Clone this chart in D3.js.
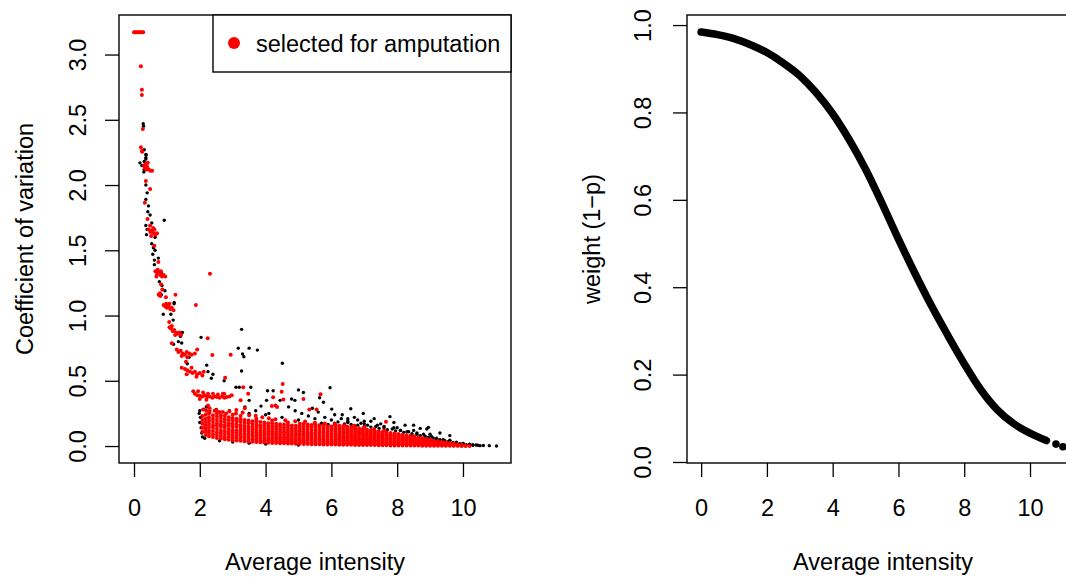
<!DOCTYPE html>
<html>
<head>
<meta charset="utf-8">
<script src="https://d3js.org/d3.v7.min.js"></script>
<style>
  body { margin: 0; background: white; }
  svg text { font-family: "Liberation Sans", Arial, sans-serif; font-size: 23.5px; fill: black; }
</style>
</head>
<body>
<svg width="1066" height="577"></svg>
<script>
// tick values
const cvTicks = [0, 0.5, 1, 1.5, 2, 2.5, 3];
const intensityTicks = [0, 2, 4, 6, 8, 10];
const weightTicks = [0, 0.2, 0.4, 0.6, 0.8, 1];

// left panel, all genes: [average intensity, coefficient of variation]
const blackPts = [
  [0.28,2.47],[0.29,2.45],[0.31,2.27],[0.36,2.235],[0.36,2.21],[0.37,2.23],[0.36,2.20],[0.18,2.17],[0.31,2.18],
  [0.24,2.15],[0.30,2.10],[0.31,2.12],[0.36,2.00],[0.40,1.94],[0.36,1.89],[0.44,1.84],[0.42,1.795],[0.49,1.77],
  [0.54,1.71],[0.92,1.73],[0.36,1.69],[0.40,1.66],[0.38,1.62],[0.64,1.60],[0.54,1.55],[0.59,1.52],[0.64,1.50],
  [0.57,1.47],[0.74,1.44],[0.62,1.425],[0.62,1.39],[0.83,1.33],[0.77,1.26],[0.85,1.23],[0.94,1.19],[0.83,1.16],
  [1.22,1.09],[0.89,1.01],[1.12,1.01],[1.19,0.965],[1.22,1.10],[1.47,0.87],[1.41,0.84],[1.20,0.78],[1.35,0.80],
  [1.45,0.79],[2.04,0.833],[1.67,0.68],[1.62,0.63],[2.21,0.62],[3.17,0.75],[3.27,0.894],[3.30,0.705],[3.34,0.684],
  [3.50,0.75],[3.75,0.735],[3.27,0.575],[4.51,0.634],[2.25,0.57],[2.35,0.52],[2.40,0.55],[2.74,0.50],[3.20,0.45],
  [3.55,0.45],[4.06,0.424],[4.23,0.424],[5.00,0.43],[5.15,0.41],[5.96,0.447],[5.64,0.37],[5.76,0.335],[4.79,0.36],
  [4.89,0.35],[3.50,0.35],[3.10,0.45],[3.37,0.30],[3.86,0.306],[4.03,0.35],[4.44,0.35],[5.42,0.29],[6.01,0.283],
  [6.59,0.286],[6.97,0.25],[7.78,0.225],[8.24,0.16],[8.70,0.135],[8.95,0.143],[8.44,0.084],[9.05,0.071],
  [10.52,0.003],[10.80,0.003],[11.02,0.0],[10.62,0.004],[10.45,0.006],
  [4.70,0.30],[4.90,0.27],[5.10,0.25],[5.30,0.23],[5.60,0.26],[5.80,0.22],[6.10,0.24],[6.30,0.21],[6.50,0.19],
  [6.80,0.20],[7.00,0.17],[7.20,0.19],[7.40,0.16],[7.60,0.15],[7.90,0.14],[8.10,0.12],[8.30,0.11],[8.60,0.10],
  [8.80,0.09],[9.20,0.06],[9.40,0.05],[9.60,0.04],[9.80,0.03],[10.00,0.02],[10.20,0.015],[10.30,0.01],[10.40,0.008],
  [5.50,0.17],[5.70,0.175],[5.90,0.165],[6.10,0.175],[6.20,0.185],[6.40,0.17],[6.50,0.18],[6.60,0.165],[6.80,0.16],
  [6.90,0.175],[7.00,0.15],[7.10,0.16],[7.20,0.145],[7.35,0.15],[7.45,0.135],[7.60,0.14],[7.70,0.125],[7.85,0.13],
  [7.95,0.115],[8.10,0.12],[8.20,0.105],[8.35,0.11],[8.45,0.095],[8.60,0.09],[8.70,0.08],[8.85,0.075],[8.95,0.068],
  [9.10,0.06],[9.20,0.052],[9.30,0.048],[9.45,0.04],[9.55,0.034],[9.70,0.028],[9.80,0.022],[9.90,0.018],[10.00,0.014],
  [10.10,0.011],[10.20,0.008],[10.30,0.006],[10.00,0.02],[9.60,0.045],[9.00,0.09],[8.50,0.12],[8.00,0.14],
  [7.50,0.17],[7.00,0.19],[6.50,0.21],[6.00,0.20],[5.50,0.21],[5.00,0.20],[4.50,0.22],[4.00,0.24],[3.50,0.25],
  [6.33,0.24],[6.70,0.22],[7.30,0.21],[7.90,0.18],[8.50,0.16],[8.90,0.13],[9.30,0.10],[9.60,0.08],
  [2.00,0.27],[2.02,0.22],[2.00,0.18],[2.04,0.14],[2.06,0.10],[2.12,0.28],[2.20,0.30],[1.98,0.25],[2.08,0.07],
  [2.15,0.06],[2.20,0.30],[2.50,0.28],[2.90,0.27],[3.30,0.26],[3.70,0.27],[4.10,0.25],
  [2.60,0.04],[3.00,0.03],[3.50,0.022],[4.00,0.015],[5.00,0.008]
];

// left panel, genes selected for amputation: scattered points
const redPts = [
  [0.00,3.17],[0.04,3.17],[0.08,3.17],[0.12,3.17],[0.16,3.17],[0.20,3.17],[0.24,3.17],[0.28,3.17],
  [0.21,2.91],[0.24,2.73],[0.24,2.69],[0.27,2.43],[0.21,2.29],[0.24,2.26],[0.25,2.255],
  [0.30,2.15],[0.35,2.16],[0.40,2.14],[0.45,2.12],[0.50,2.11],[0.55,2.11],[0.38,2.12],[0.42,2.17],[0.33,2.13],
  [0.36,2.03],[0.49,1.97],[0.33,1.865],[0.41,1.74],[0.49,1.69],
  [0.45,1.66],[0.50,1.64],[0.55,1.65],[0.60,1.63],[0.65,1.62],[0.70,1.63],[0.52,1.61],[0.58,1.67],[0.62,1.66],
  [0.62,1.535],[0.74,1.41],
  [0.65,1.34],[0.70,1.32],[0.75,1.33],[0.80,1.31],[0.85,1.30],[0.90,1.31],[0.95,1.30],[0.72,1.35],[0.82,1.34],[0.68,1.30],
  [2.31,1.32],
  [0.82,1.24],[0.86,1.20],[0.79,1.17],[0.75,1.16],[0.80,1.15],[0.97,1.14],[1.26,1.16],[1.88,1.08],
  [0.90,1.08],[0.95,1.07],[1.00,1.06],[1.05,1.07],[1.10,1.05],[1.15,1.06],[1.20,1.04],[0.98,1.09],[1.08,1.09],
  [1.07,0.95],
  [1.08,0.91],[1.12,0.90],[1.18,0.88],[1.22,0.89],[1.28,0.87],[1.33,0.86],[1.38,0.87],[1.43,0.85],[1.15,0.92],[1.25,0.85],
  [1.15,0.787],[2.24,0.825],
  [1.30,0.74],[1.35,0.72],[1.42,0.73],[1.48,0.71],[1.55,0.70],[1.60,0.72],[1.68,0.71],[1.75,0.70],[1.45,0.69],[1.62,0.68],
  [1.92,0.74],[1.85,0.71],[1.58,0.646],[2.38,0.697],[2.94,0.70],
  [1.45,0.60],[1.55,0.59],[1.62,0.58],[1.70,0.57],[1.78,0.56],[1.85,0.57],[1.92,0.55],[2.00,0.56],[2.08,0.54],
  [1.60,0.55],[1.75,0.60],[1.90,0.53],[2.12,0.57],[2.77,0.523],
  [1.80,0.42],[1.85,0.40],[1.92,0.39],[2.00,0.385],[2.08,0.38],[2.15,0.39],[2.22,0.375],[2.30,0.38],[2.38,0.37],
  [2.45,0.38],[2.52,0.375],[2.60,0.37],[2.68,0.38],[2.75,0.37],[2.82,0.375],[2.90,0.38],[2.97,0.39],[1.95,0.42],
  [2.10,0.41],[2.25,0.40],[2.40,0.40],[2.55,0.395],[2.70,0.40],[2.00,0.36],[2.20,0.355],
  [3.32,0.45],[3.47,0.40],[4.52,0.475],[4.49,0.416],[5.67,0.396],[4.23,0.373],[4.54,0.357],[5.15,0.36],[3.24,0.35],
  [2.74,0.40],[3.11,0.276],[3.37,0.29],[4.19,0.306],[4.30,0.31],[4.35,0.30],[5.33,0.28],[5.55,0.28],[7.66,0.186],
  [2.10,0.28],[2.20,0.27],[2.30,0.29],[2.45,0.27],[2.60,0.26],[2.80,0.25],[3.00,0.24],[2.25,0.31],
  [2.30,0.265],[2.50,0.275],[2.70,0.26],[2.90,0.265],[3.10,0.25],[3.30,0.255],[3.50,0.235],[3.70,0.232],
  [3.90,0.22],[4.10,0.212],[4.30,0.205],[4.60,0.198],[4.90,0.19],[5.20,0.188],[5.50,0.178],[5.80,0.172],
  [6.10,0.168],[6.40,0.16],[6.70,0.155],[7.00,0.143],[7.30,0.13],[7.60,0.12]
];

// left panel, genes selected for amputation: dense cloud, one row per intensity column
const redCloud = [
  [2.08, .11,.14,.17,.20,.23],
  [2.18, .085,.11,.135,.16,.185,.21,.24],
  [2.28, .075,.10,.12,.145,.17,.195,.22,.25],
  [2.40, .07,.09,.115,.14,.16,.185,.21,.235],
  [2.52, .062,.085,.105,.13,.155,.175,.20,.225,.25],
  [2.64, .058,.078,.10,.12,.145,.165,.19,.215,.235],
  [2.76, .052,.072,.095,.115,.14,.16,.185,.205,.23],
  [2.88, .048,.07,.09,.11,.13,.155,.175,.20,.22],
  [3.00, .045,.065,.085,.105,.125,.15,.17,.195,.215],
  [3.12, .042,.062,.08,.10,.12,.145,.165,.19,.21],
  [3.24, .04,.06,.078,.098,.12,.14,.16,.185,.205,.23],
  [3.36, .037,.056,.075,.095,.115,.135,.155,.18,.20],
  [3.48, .035,.053,.072,.09,.11,.13,.15,.175,.195],
  [3.60, .033,.05,.07,.088,.108,.128,.148,.17,.19],
  [3.72, .031,.048,.066,.085,.105,.125,.145,.165,.19,.21],
  [3.84, .029,.046,.064,.082,.10,.12,.14,.16,.185],
  [3.96, .027,.044,.062,.08,.10,.118,.138,.158,.18],
  [4.08, .026,.042,.06,.078,.096,.115,.135,.155,.175],
  [4.20, .024,.04,.058,.076,.094,.112,.132,.152,.172,.195],
  [4.32, .023,.038,.055,.072,.09,.11,.13,.15,.17],
  [4.44, .022,.036,.053,.07,.088,.107,.127,.147,.167],
  [4.56, .021,.035,.051,.068,.086,.105,.124,.144,.165],
  [4.68, .02,.034,.05,.066,.084,.102,.12,.14,.16,.18],
  [4.80, .019,.032,.048,.064,.082,.10,.118,.137,.157],
  [4.92, .018,.031,.046,.062,.08,.097,.115,.134,.155],
  [5.04, .017,.03,.045,.06,.078,.095,.113,.132,.152,.17],
  [5.16, .016,.029,.043,.058,.076,.093,.11,.13,.15,.17],
  [5.28, .015,.028,.042,.057,.074,.09,.108,.127,.147,.165],
  [5.40, .014,.027,.041,.055,.072,.088,.106,.124,.145,.162],
  [5.52, .014,.026,.04,.054,.07,.086,.104,.122,.142,.16],
  [5.64, .013,.025,.038,.052,.068,.084,.102,.12,.14,.16],
  [5.76, .012,.024,.037,.051,.066,.082,.10,.118,.137,.155],
  [5.88, .012,.023,.036,.05,.065,.08,.098,.115,.134,.152],
  [6.00, .011,.022,.035,.048,.063,.078,.095,.113,.13,.15],
  [6.12, .011,.021,.034,.047,.062,.077,.093,.11,.128,.145,.16],
  [6.24, .01,.02,.033,.046,.06,.075,.09,.107,.124,.14,.155],
  [6.36, .01,.02,.032,.045,.058,.073,.088,.104,.12,.137,.153],
  [6.48, .009,.019,.031,.043,.057,.071,.086,.101,.117,.133,.148],
  [6.60, .009,.018,.03,.042,.055,.069,.083,.098,.114,.13,.145],
  [6.72, .008,.018,.029,.04,.053,.067,.08,.095,.11,.126,.14],
  [6.84, .008,.017,.028,.039,.051,.064,.078,.092,.106,.121,.136],
  [6.96, .008,.016,.027,.038,.05,.062,.075,.088,.102,.117,.132],
  [7.08, .007,.016,.026,.037,.048,.06,.072,.085,.098,.112,.127],
  [7.20, .007,.015,.025,.035,.046,.058,.07,.082,.094,.107,.12],
  [7.32, .007,.015,.024,.034,.045,.056,.067,.079,.09,.103,.116],
  [7.44, .006,.014,.023,.033,.043,.054,.065,.076,.087,.10,.112],
  [7.56, .006,.014,.022,.032,.042,.052,.062,.073,.084,.096,.108],
  [7.68, .006,.013,.021,.03,.04,.05,.06,.07,.08,.091,.103],
  [7.80, .005,.013,.02,.029,.038,.048,.058,.068,.078,.089,.10],
  [7.92, .005,.012,.02,.028,.037,.046,.056,.065,.075,.086,.096],
  [8.04, .005,.012,.019,.027,.035,.044,.053,.062,.071,.082,.092],
  [8.16, .005,.011,.018,.026,.034,.042,.05,.059,.068,.078,.087],
  [8.28, .004,.011,.018,.025,.032,.04,.048,.056,.064,.073,.082],
  [8.40, .004,.01,.017,.024,.031,.038,.046,.054,.061,.07,.078],
  [8.52, .004,.01,.016,.023,.03,.037,.044,.051,.058,.066,.074],
  [8.64, .004,.009,.015,.022,.028,.035,.042,.049,.057,.065],
  [8.76, .003,.009,.015,.021,.027,.033,.04,.046,.053,.06],
  [8.88, .003,.008,.014,.02,.026,.032,.038,.044,.05,.056],
  [9.00, .003,.008,.013,.019,.024,.03,.036,.042,.048],
  [9.12, .003,.008,.013,.018,.023,.028,.034,.04],
  [9.24, .003,.007,.012,.017,.022,.027,.032,.037],
  [9.36, .002,.007,.011,.016,.021,.026,.031],
  [9.48, .002,.006,.011,.015,.02,.024,.028],
  [9.60, .002,.006,.01,.014,.018,.023],
  [9.72, .002,.005,.009,.013,.017],
  [9.84, .002,.005,.009,.012],
  [9.96, .001,.004,.008],
  [10.08, .001,.004],
  [10.20, .001]
];

// right panel: weight curve
const weightX = [0, 0.5, 1.0, 1.5, 2.0, 2.5, 3.0, 3.5, 4.0, 4.5, 5.0, 5.5, 6.0, 6.5, 7.0, 7.5, 8.0, 8.5, 9.0, 9.5, 10.0, 10.5];
const weightY = [0.984, 0.978, 0.969, 0.955, 0.937, 0.913, 0.884, 0.845, 0.797, 0.738, 0.67, 0.592, 0.51, 0.432, 0.358, 0.29, 0.225, 0.166, 0.12, 0.088, 0.066, 0.049];
const weightTailX = [10.79, 11.0];
const weightTailY = [0.041, 0.035];

const svg = d3.select("svg");

// ---------- left panel ----------
const L = {left: 119, right: 511, top: 15, bottom: 463};
const xL = d3.scaleLinear().domain([-0.456, 11.46]).range([L.left, L.right]);
const yL = d3.scaleLinear().domain([-0.13, 3.303]).range([L.bottom, L.top]);

const cloudPts = [];
redCloud.forEach(function(row){
  row.slice(1).forEach(function(cv){ cloudPts.push([row[0], cv]); });
});

svg.append("g").selectAll("circle").data(blackPts).enter().append("circle")
  .attr("cx", d => xL(d[0])).attr("cy", d => yL(d[1])).attr("r", 1.7)
  .attr("fill", "black");
svg.append("g").selectAll("circle").data(cloudPts.concat(redPts)).enter().append("circle")
  .attr("cx", d => xL(d[0])).attr("cy", d => yL(d[1])).attr("r", 2)
  .attr("fill", "#ff0000");

svg.append("rect")
  .attr("x", L.left).attr("y", L.top).attr("width", L.right - L.left).attr("height", L.bottom - L.top)
  .attr("fill", "none").attr("stroke", "black").attr("stroke-width", 1.4);

const axL = svg.append("g").attr("transform", `translate(0,${L.bottom})`)
  .call(d3.axisBottom(xL).tickValues(intensityTicks).tickSize(14).tickSizeOuter(0));
axL.select(".domain").remove();
axL.selectAll("line").attr("stroke-width", 1.3);
axL.selectAll("text").attr("y", 53).attr("dy", 0).style("font-size", "23.5px");

const ayL = svg.append("g").attr("transform", `translate(${L.left},0)`)
  .call(d3.axisLeft(yL).tickValues(cvTicks).tickFormat(d3.format(".1f")).tickSize(14).tickSizeOuter(0));
ayL.select(".domain").remove();
ayL.selectAll("line").attr("stroke-width", 1.3);
ayL.selectAll("text").attr("transform", "rotate(-90)").attr("x", 0).attr("y", -33).attr("dy", 0)
  .attr("text-anchor", "middle").style("font-size", "23.5px");

svg.append("text").attr("x", (L.left + L.right) / 2).attr("y", 570)
  .attr("text-anchor", "middle").text("Average intensity");
svg.append("text").attr("transform", `translate(33,${(L.top + L.bottom) / 2}) rotate(-90)`)
  .attr("text-anchor", "middle").text("Coefficient of variation");

// legend
const leg = svg.append("g");
leg.append("rect").attr("x", 213).attr("y", L.top).attr("width", L.right - 213).attr("height", 57)
  .attr("fill", "white").attr("stroke", "black").attr("stroke-width", 1.4);
leg.append("circle").attr("cx", 234).attr("cy", 43).attr("r", 6).attr("fill", "#ff0000");
leg.append("text").attr("x", 256).attr("y", 52).text("selected for amputation");

// ---------- right panel ----------
const R = {left: 687, right: 1079, top: 15, bottom: 463};
const xR = d3.scaleLinear().domain([-0.43, 11.49]).range([R.left, R.right]);
const yR = d3.scaleLinear().domain([-0.0023, 1.023]).range([R.bottom, R.top]);

const curvePts = weightX.map((x, i) => [x, weightY[i]]);
svg.append("path").datum(curvePts)
  .attr("d", d3.line().x(d => xR(d[0])).y(d => yR(d[1])).curve(d3.curveMonotoneX))
  .attr("fill", "none").attr("stroke", "black").attr("stroke-width", 7.5).attr("stroke-linecap", "round");
svg.append("g").selectAll("circle").data(weightTailX.map((x, i) => [x, weightTailY[i]])).enter().append("circle")
  .attr("cx", d => xR(d[0])).attr("cy", d => yR(d[1])).attr("r", 3.8).attr("fill", "black");

svg.append("rect")
  .attr("x", R.left).attr("y", R.top).attr("width", R.right - R.left).attr("height", R.bottom - R.top)
  .attr("fill", "none").attr("stroke", "black").attr("stroke-width", 1.4);

const axR = svg.append("g").attr("transform", `translate(0,${R.bottom})`)
  .call(d3.axisBottom(xR).tickValues(intensityTicks).tickSize(14).tickSizeOuter(0));
axR.select(".domain").remove();
axR.selectAll("line").attr("stroke-width", 1.3);
axR.selectAll("text").attr("y", 53).attr("dy", 0).style("font-size", "23.5px");

const ayR = svg.append("g").attr("transform", `translate(${R.left},0)`)
  .call(d3.axisLeft(yR).tickValues(weightTicks).tickFormat(d3.format(".1f")).tickSize(14).tickSizeOuter(0));
ayR.select(".domain").remove();
ayR.selectAll("line").attr("stroke-width", 1.3);
ayR.selectAll("text").attr("transform", "rotate(-90)").attr("x", 0).attr("y", -36).attr("dy", 0)
  .attr("text-anchor", "middle").style("font-size", "23.5px");

svg.append("text").attr("x", (R.left + R.right) / 2).attr("y", 570)
  .attr("text-anchor", "middle").text("Average intensity");
svg.append("text").attr("transform", `translate(600,${(R.top + R.bottom) / 2}) rotate(-90)`)
  .attr("text-anchor", "middle").text("weight (1\u2212p)");
</script>
</body>
</html>
